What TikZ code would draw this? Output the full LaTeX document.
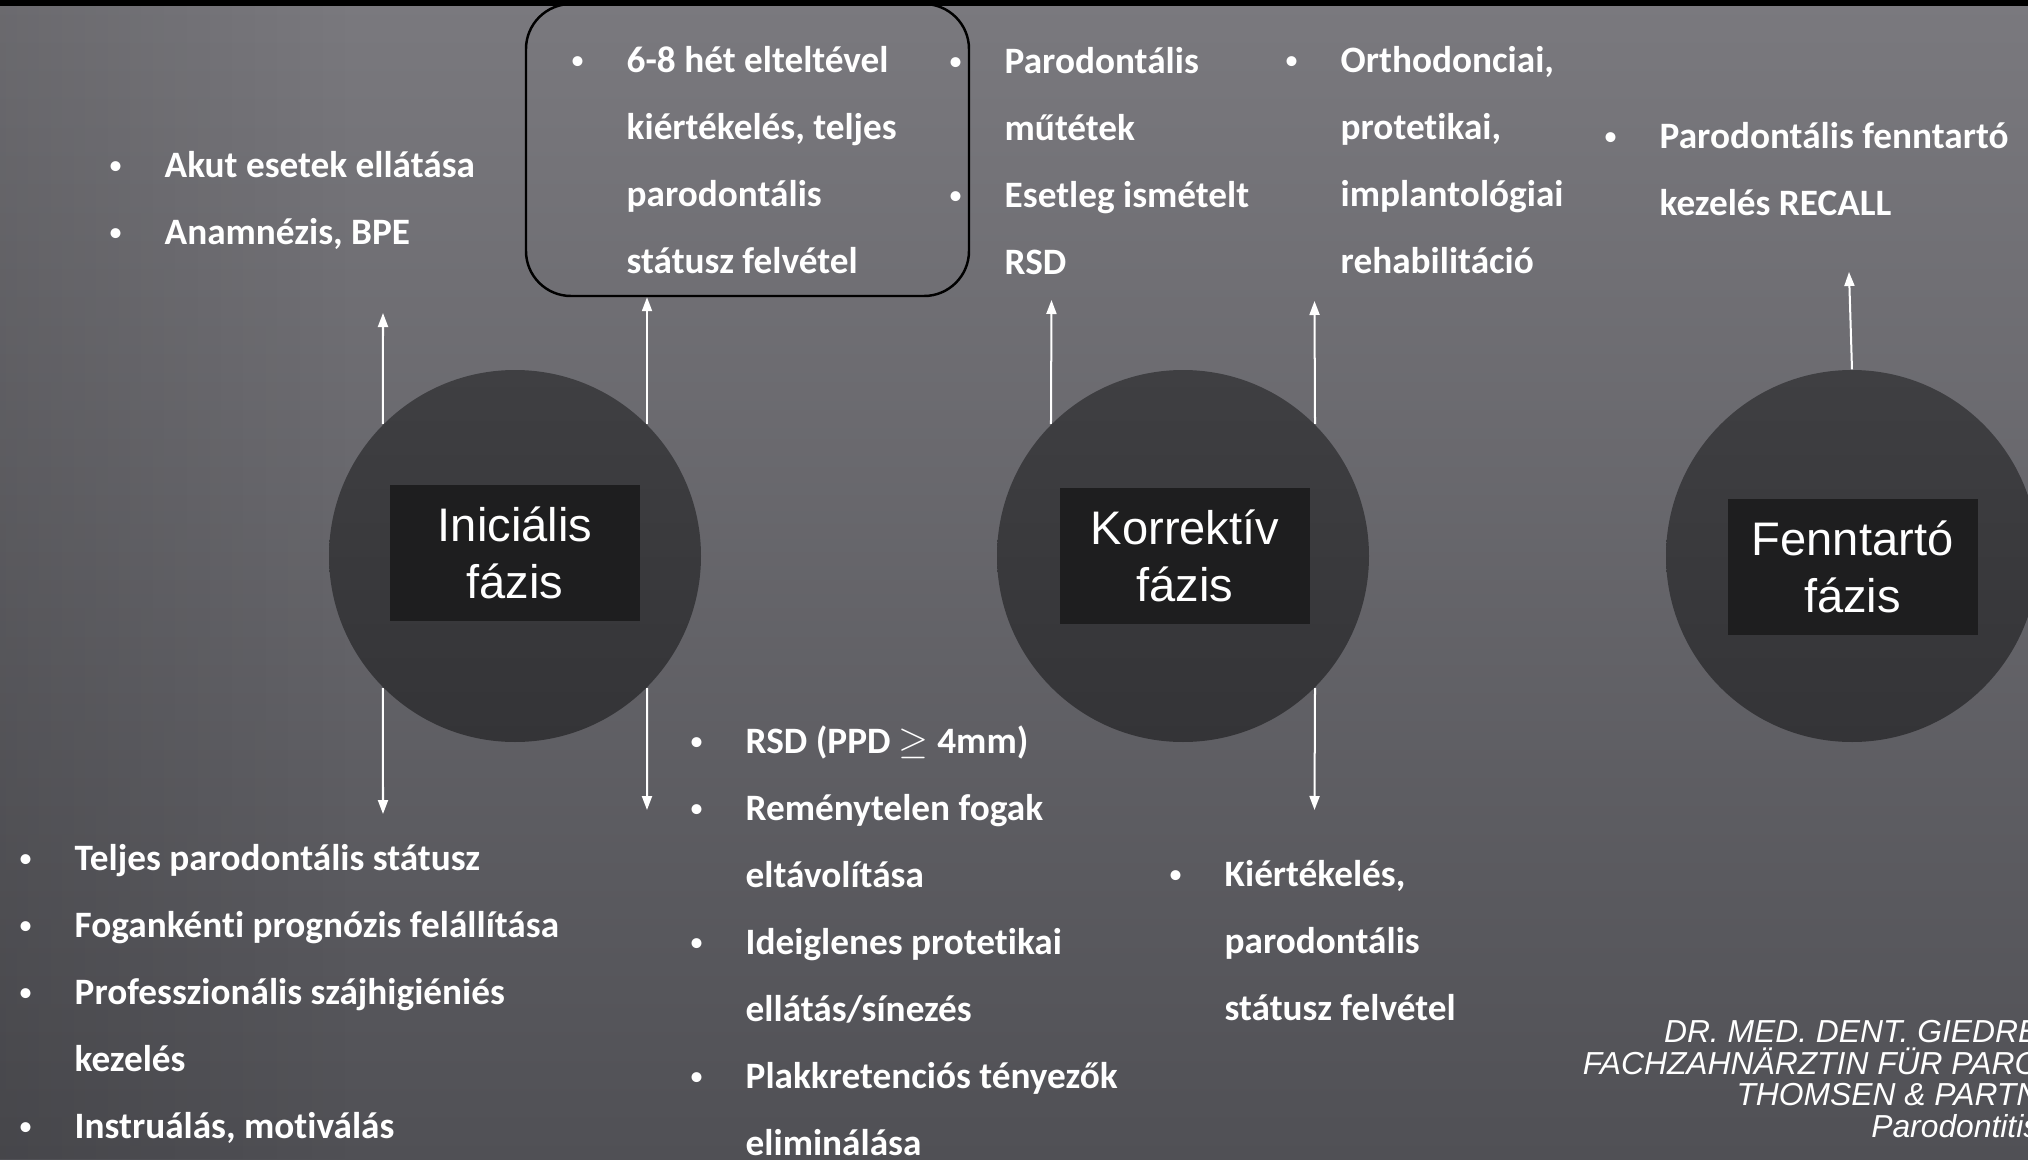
\documentclass[tikz,border=0pt]{standalone}
\usepackage{fontspec}
\setmainfont{Carlito}[Ligatures=NoCommon]
\newfontfamily\arialfont{Liberation Sans}
\usepackage{tikz}
\usetikzlibrary{arrows.meta,calc,positioning,fadings}
\definecolor{pbgtop}{RGB}{122,121,126}
\definecolor{pbgbot}{RGB}{80,80,85}
\definecolor{pdisctop}{RGB}{63,63,66}
\definecolor{pdiscbot}{RGB}{52,52,55}
\definecolor{plabel}{RGB}{30,30,31}
\tikzfading[name=pfadeleft, left color=transparent!0, right color=transparent!100]
\tikzset{
  >={Triangle[length=1.4mm,width=1.0mm]},
  pphase/.style={circle, top color=pdisctop, bottom color=pdiscbot, draw=none,
                 minimum size=3.72cm, inner sep=0pt},
  ptag/.style={fill=plabel, text=white, minimum width=2.5cm, minimum height=1.36cm,
               inner sep=0pt, align=center,
               font=\arialfont\fontsize{13.4}{16.2}\selectfont},
  plist/.style={text=white, align=left, anchor=north west, inner sep=0pt,
                font=\bfseries\fontsize{10.6}{19.06}\selectfont},
  pframe/.style={draw=black, line width=0.7pt, rounded corners=0.45cm,
                 minimum width=4.43cm, minimum height=2.92cm, inner sep=0pt},
  pstep/.style={->, white, line width=0.57pt},
  pnote/.style={text=white, align=right, anchor=north east, inner sep=0pt,
                font=\arialfont\itshape\fontsize{9.05}{8.96}\selectfont},
}
\newcommand{\pb}{\makebox[0.56cm][l]{\raisebox{0.85pt}{\mdseries\fontsize{8}{8}\selectfont\textbullet}}}
\newcommand{\pn}{\hspace*{0.56cm}}

\begin{document}
\begin{tikzpicture}[x=1cm,y=1cm]

  % --- háttér ---
  \shade[top color=pbgtop, bottom color=pbgbot] (0,0) rectangle (20.28,11.59);
  \fill[black, fill opacity=0.12, path fading=pfadeleft] (0,0) rectangle (3.5,11.59);
  \fill[black] (0,11.53) rectangle (20.28,11.59);
  \useasboundingbox (0,0) rectangle (20.28,11.59);

  % --- fázisok ---
  \node[pphase] (ini) at (5.15,6.03) {};
  \node[pphase] (kor) at (11.83,6.03) {};
  \node[pphase] (fen) at (18.52,6.03) {};
  \node[ptag] (initag) at (5.15,6.06) {Iniciális\\fázis};
  \node[ptag] (kortag) at (11.85,6.03) {Korrektív\\fázis};
  \node[ptag] (fentag) at (18.525,5.92) {Fenntartó\\fázis};

  % --- felső listák ---
  \node[pframe] (eval) at (7.475,10.09) {};
  \node[plist] (akut) at (1.08,10.085)
    {\pb Akut esetek ellátása\\ \pb Anamnézis, BPE};
  \node[plist] (kiert) at (5.70,11.135)
    {\pb 6-8 hét elteltével\\ \pn kiértékelés, teljes\\ \pn parodontális\\ \pn státusz felvétel};
  \node[plist] (mutet) at (9.48,11.12)
    {\pb Parodontális\\ \pn műtétek\\ \pb Esetleg ismételt\\ \pn RSD};
  \node[plist] (rehab) at (12.84,11.135)
    {\pb Orthodonciai,\\ \pn protetikai,\\ \pn implantológiai\\ \pn rehabilitáció};
  \node[plist] (recall) at (16.03,10.375)
    {\pb Parodontális fenntartó\\ \pn kezelés RECALL};

  % --- alsó listák ---
  \node[plist] (statusz) at (0.18,3.155)
    {\pb Teljes parodontális státusz\\ \pb Fogankénti prognózis felállítása\\
     \pb Professzionális szájhigiéniés\\ \pn kezelés\\ \pb Instruálás, motiválás};
  \node[plist] (rsd) at (6.89,4.34)
    {\pb RSD (PPD $\geq$ 4mm)\\ \pb Reménytelen fogak\\ \pn eltávolítása\\
     \pb Ideiglenes protetikai\\ \pn ellátás/sínezés\\ \pb Plakkretenciós tényezők\\
     \pn eliminálása};
  \node[plist] (kontroll) at (11.68,2.995)
    {\pb Kiértékelés,\\ \pn parodontális\\ \pn státusz felvétel};

  % --- nyilak ---
  \coordinate (iniup) at (3.83,8.46);
  \coordinate (inidownA) at (3.83,3.45);
  \coordinate (inidownB) at (6.47,3.49);
  \coordinate (korupA) at (10.515,8.59);
  \coordinate (korupB) at (13.145,8.58);
  \coordinate (kordown) at (13.145,3.49);
  \coordinate (fenup) at (18.49,8.87);
  \draw[pstep] (ini.135) -- (iniup);
  \draw[pstep] (ini.45) -- (ini.45 |- eval.south);
  \draw[pstep] (ini.225) -- (inidownA);
  \draw[pstep] (ini.315) -- (inidownB);
  \draw[pstep] (kor.135) -- (korupA);
  \draw[pstep] (kor.45) -- (korupB);
  \draw[pstep] (kor.315) -- (kordown);
  \draw[pstep] (fen.north) -- (fenup);

  % --- lábjegyzet ---
  \begin{scope}
    \clip (0,0) rectangle (20.28,11.59);
    \node[pnote] (szerzo) at (20.40,1.39)
      {DR. MED. DENT. GIEDRE\\ FACHZAHNÄRZTIN FÜR PARO\\ THOMSEN \& PARTN\\ Parodontitis};
  \end{scope}

\end{tikzpicture}
\end{document}
